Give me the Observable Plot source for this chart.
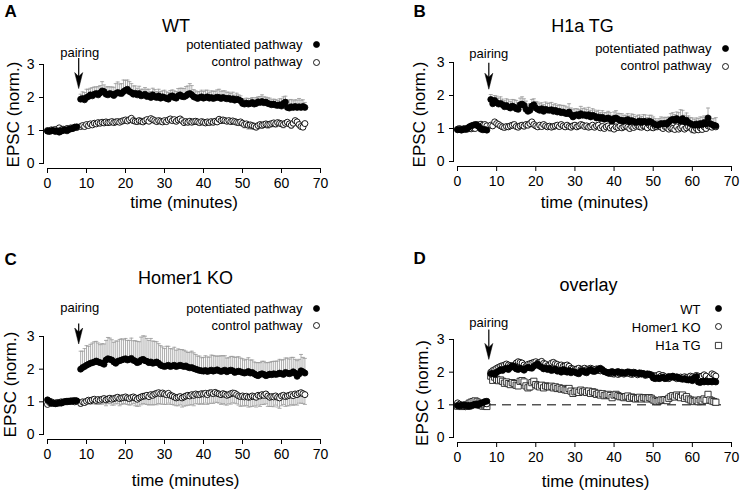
<!DOCTYPE html>
<html><head><meta charset="utf-8">
<script src="https://cdn.jsdelivr.net/npm/d3@7"></script>
<script src="https://cdn.jsdelivr.net/npm/@observablehq/plot@0.6"></script>
<style>
body{margin:0;background:#fff;}
#fig{position:relative;width:740px;height:492px;background:#fff;overflow:hidden;}
#fig > svg{position:absolute;}
</style></head><body><div id="fig"></div>
<script>
// ---------- DATA ----------
const xTicks = [0, 10, 20, 30, 40, 50, 60, 70];
const yTicks = [0, 1, 2, 3];
const pairingTime = [8];

const timePre = [0,0.5,1,1.5,2,2.5,3,3.5,4,4.5,5,5.5,6,6.5,7,7.5];
const timePost = [8.5,9,9.5,10,10.5,11,11.5,12,12.5,13,13.5,14,14.5,15,15.5,16,16.5,17,17.5,18,18.5,19,19.5,20,20.5,21,21.5,22,22.5,23,23.5,24,24.5,25,25.5,26,26.5,27,27.5,28,28.5,29,29.5,30,30.5,31,31.5,32,32.5,33,33.5,34,34.5,35,35.5,36,36.5,37,37.5,38,38.5,39,39.5,40,40.5,41,41.5,42,42.5,43,43.5,44,44.5,45,45.5,46,46.5,47,47.5,48,48.5,49,49.5,50,50.5,51,51.5,52,52.5,53,53.5,54,54.5,55,55.5,56,56.5,57,57.5,58,58.5,59,59.5,60,60.5,61,61.5,62,62.5,63,63.5,64,64.5,65,65.5,66];

// WT
const wtPotPre = [0.98,0.97,0.99,1.00,0.97,0.99,0.95,0.98,1.00,1.02,0.99,1.03,1.05,1.07,1.10,1.11];
const wtCtrlPre = [1.00,0.99,1.02,1.01,1.03,1.00,1.08,1.02,1.04,1.03,1.06,1.05,1.08,1.06,1.10,1.09];
const wtPotPost = [1.95,
1.97,1.93,2.00,2.03,2.08,2.05,2.10,2.12,2.08,2.14,2.20,2.18,2.10,2.08,
2.12,2.10,2.06,2.12,2.15,2.13,2.12,2.18,2.22,2.25,2.18,2.15,2.10,2.13,
2.08,2.12,2.05,2.07,2.10,2.03,2.05,2.00,2.08,2.02,2.00,2.05,1.98,2.02,
2.00,1.97,1.95,2.03,2.05,2.00,1.98,2.05,2.08,2.03,2.02,2.05,2.10,2.12,
2.08,2.02,2.00,1.97,2.00,2.02,1.98,2.00,2.02,1.98,2.00,1.97,1.99,2.01,
2.00,1.97,2.00,1.98,1.96,1.98,1.94,1.96,1.92,1.95,1.93,1.90,1.82,1.80,
1.83,1.80,1.82,1.85,1.80,1.82,1.87,1.85,1.88,1.84,1.86,1.82,1.80,1.78,
1.80,1.77,1.76,1.78,1.74,1.82,1.86,1.70,1.68,1.72,1.70,1.73,1.70,1.72,
1.70,1.73,1.70];
const wtPotErr = [0.15,
.20,.22,.25,.22,.20,.25,.22,.20,.25,.22,.28,.20,.22,.25,
.20,.22,.25,.30,.32,.28,.30,.35,.30,.28,.30,.27,.25,.22,
.20,.22,.20,.18,.20,.22,.20,.18,.20,.22,.18,.20,.20,.18,
.22,.20,.20,.18,.18,.20,.20,.22,.20,.25,.25,.28,.25,.30,
.28,.22,.20,.20,.18,.20,.20,.22,.20,.18,.20,.22,.20,.22,
.25,.22,.20,.22,.20,.18,.18,.20,.15,.18,.15,.15,.15,.15,
.15,.17,.15,.15,.15,.18,.15,.18,.20,.18,.15,.17,.18,.15,
.15,.17,.15,.18,.22,.20,.18,.20,.25,.22,.20,.20,.22,.25,
.22,.20,.15];
const wtCtrlPost = [1.12,
1.15,1.12,1.18,1.15,1.20,1.17,1.22,1.20,1.24,1.22,1.25,1.23,1.26,1.24,
1.25,1.27,1.24,1.26,1.27,1.25,1.28,1.30,1.32,1.29,1.33,1.37,1.30,1.28,
1.27,1.30,1.28,1.26,1.30,1.33,1.28,1.36,1.33,1.30,1.27,1.30,1.28,1.26,
1.30,1.27,1.32,1.35,1.30,1.33,1.28,1.32,1.35,1.30,1.24,1.27,1.25,1.28,
1.25,1.27,1.28,1.26,1.24,1.27,1.25,1.23,1.26,1.24,1.27,1.25,1.28,1.26,
1.34,1.30,1.32,1.30,1.28,1.30,1.27,1.29,1.27,1.25,1.24,1.26,1.22,1.18,
1.20,1.16,1.17,1.15,1.13,1.10,1.15,1.18,1.16,1.18,1.20,1.18,1.19,1.21,
1.23,1.20,1.24,1.22,1.20,1.18,1.22,1.25,1.20,1.16,1.22,1.30,1.26,1.18,
1.12,1.10,1.21];
const wtCtrlErr = [0.05,
.06,.05,.08,.06,.07,.08,.06,.07,.08,.06,.07,.08,.06,.07,
.08,.07,.06,.08,.07,.06,.08,.07,.06,.08,.07,.06,.08,.07,
.06,.07,.08,.06,.07,.08,.06,.07,.08,.06,.07,.08,.06,.07,
.08,.07,.06,.08,.07,.06,.08,.07,.06,.08,.07,.06,.08,.07,
.06,.07,.08,.06,.07,.08,.06,.07,.08,.06,.07,.08,.06,.07,
.08,.07,.06,.08,.07,.06,.08,.07,.06,.08,.07,.06,.08,.10,
.10,.12,.10,.12,.10,.08,.10,.12,.10,.08,.10,.12,.08,.10,
.08,.10,.08,.06,.08,.10,.08,.06,.08,.10,.08,.06,.08,.10,
.08,.06,.08];

// H1a TG
const tgPotPre = [0.96,0.97,0.95,0.98,0.97,1.00,1.05,1.08,1.10,1.12,1.09,1.05,0.98,0.96,0.97,0.95];
const tgCtrlPre = [0.98,1.00,0.97,0.99,1.00,0.98,1.00,0.99,1.01,1.00,1.12,1.10,1.13,1.10,1.12,1.08];
const tgPotPost = [1.88,
1.75,1.85,1.78,1.74,1.76,1.72,1.66,1.70,1.65,1.62,1.68,1.65,1.60,1.58,
1.72,1.74,1.70,1.58,1.52,1.55,1.68,1.72,1.62,1.58,1.55,1.60,1.52,1.58,
1.56,1.55,1.57,1.52,1.55,1.50,1.52,1.48,1.50,1.46,1.45,1.50,1.42,1.35,
1.40,1.42,1.38,1.45,1.40,1.42,1.38,1.42,1.35,1.40,1.38,1.32,1.35,1.30,
1.34,1.28,1.30,1.32,1.28,1.22,1.30,1.32,1.28,1.25,1.25,1.22,1.25,1.27,
1.20,1.24,1.22,1.18,1.20,1.23,1.18,1.22,1.21,1.18,1.22,1.20,1.15,1.12,
1.10,1.12,1.15,1.14,1.16,1.13,1.20,1.25,1.28,1.24,1.30,1.26,1.22,1.30,
1.20,1.25,1.18,1.15,1.12,1.10,1.14,1.10,1.15,1.12,1.18,1.14,1.32,1.15,
1.12,1.10,1.08];
const tgPotErr = [0.15,
.18,.15,.20,.18,.20,.17,.18,.20,.22,.20,.20,.22,.25,.20,
.20,.22,.20,.25,.22,.20,.20,.18,.20,.22,.20,.18,.20,.22,
.20,.22,.22,.20,.20,.20,.20,.22,.20,.22,.20,.25,.20,.22,
.20,.18,.20,.22,.20,.20,.20,.22,.20,.20,.18,.20,.20,.18,
.20,.20,.18,.20,.20,.18,.20,.22,.18,.20,.20,.18,.15,.18,
.18,.20,.20,.18,.20,.18,.18,.20,.20,.15,.18,.20,.20,.18,
.15,.18,.20,.18,.18,.20,.15,.20,.20,.18,.20,.22,.35,.25,
.20,.22,.20,.18,.20,.18,.18,.20,.20,.22,.20,.18,.30,.20,
.18,.20,.25];
const tgCtrlPost = [1.10,
1.08,1.20,1.15,1.12,1.08,1.05,1.03,1.06,1.05,1.08,1.10,1.12,1.06,1.04,
1.08,1.10,1.07,1.12,1.10,1.15,1.20,1.12,1.08,1.05,1.10,1.06,1.12,1.08,
1.05,1.07,1.04,1.06,1.08,1.10,1.06,1.12,1.08,1.05,1.10,1.06,1.04,1.08,
1.10,1.05,1.08,1.12,1.10,1.06,1.08,1.04,1.06,1.10,1.04,1.08,1.10,1.02,
1.06,1.00,1.05,1.08,1.02,1.06,0.98,1.05,1.03,1.07,1.02,1.05,1.08,1.04,
1.00,1.06,1.03,1.07,1.10,1.05,1.04,1.08,1.06,1.02,1.10,1.04,1.02,1.06,
1.05,1.08,1.04,1.00,1.06,1.03,0.98,1.02,1.00,0.97,1.05,0.98,1.02,1.05,
0.98,1.02,1.06,1.04,0.97,0.95,1.00,0.96,1.02,0.97,1.05,1.00,1.08,1.06,
1.04,1.08,1.05];
const tgCtrlErr = [0.05,
.06,.08,.07,.06,.08,.07,.06,.08,.07,.06,.08,.07,.06,.08,
.07,.06,.08,.07,.06,.08,.07,.06,.08,.07,.06,.08,.07,.06,
.08,.07,.06,.08,.07,.06,.08,.07,.06,.08,.07,.06,.08,.07,
.06,.08,.07,.06,.08,.07,.06,.08,.07,.10,.08,.07,.06,.08,
.07,.06,.08,.07,.10,.08,.07,.06,.08,.07,.06,.08,.07,.06,
.08,.07,.06,.08,.07,.06,.08,.07,.06,.08,.07,.06,.08,.07,
.06,.08,.07,.06,.08,.07,.06,.08,.07,.06,.08,.07,.06,.08,
.07,.06,.08,.07,.10,.08,.07,.06,.08,.07,.06,.08,.07,.06,
.08,.07,.06];

// Homer1 KO
const koPotPre = [1.06,1.02,0.95,0.96,0.94,0.95,0.97,0.96,0.99,1.00,1.02,1.01,1.03,1.02,1.04,1.03];
const koCtrlPre = [0.92,0.98,1.00,0.97,0.96,0.98,0.97,1.00,0.99,1.01,1.00,1.02,1.01,1.03,1.00,1.02];
const koPotPost = [2.00,
2.05,2.08,2.12,2.15,2.18,2.20,2.22,2.25,2.22,2.20,2.18,2.15,2.28,2.32,
2.30,2.28,2.22,2.18,2.24,2.26,2.28,2.30,2.32,2.28,2.30,2.33,2.27,2.25,
2.20,2.22,2.28,2.30,2.26,2.24,2.20,2.22,2.18,2.20,2.22,2.18,2.12,2.10,
2.08,2.10,2.12,2.08,2.10,2.12,2.08,2.10,2.12,2.10,2.08,2.10,2.06,2.04,
2.05,2.02,2.00,1.98,1.96,1.95,1.94,1.96,1.93,1.95,1.97,1.94,1.96,1.98,
1.95,1.93,1.95,1.97,1.92,1.95,1.97,1.95,1.90,1.92,1.94,1.92,1.90,1.88,
1.90,1.93,1.88,1.90,1.86,1.82,1.80,1.84,1.86,1.84,1.80,1.82,1.85,1.83,
1.86,1.84,1.85,1.88,1.86,1.84,1.90,1.88,1.86,1.88,1.92,1.88,1.78,1.85,
1.95,1.92,1.88];
const koPotErr = [0.55,
.50,.55,.60,.55,.58,.60,.62,.60,.58,.55,.60,.62,.60,.65,
.65,.62,.60,.68,.62,.65,.65,.60,.62,.60,.58,.62,.60,.62,
.65,.62,.70,.72,.75,.70,.68,.72,.68,.65,.62,.60,.60,.58,
.55,.60,.58,.55,.52,.55,.50,.52,.48,.50,.50,.45,.45,.48,
.50,.48,.45,.42,.44,.40,.42,.45,.44,.42,.46,.48,.44,.42,
.45,.48,.46,.44,.42,.40,.42,.44,.46,.45,.44,.42,.42,.40,
.40,.42,.40,.38,.36,.38,.40,.36,.38,.40,.40,.38,.36,.40,
.38,.40,.40,.42,.42,.45,.44,.46,.45,.48,.44,.42,.48,.45,
.50,.44,.45];
const koCtrlPost = [0.95,
1.00,0.98,1.02,1.05,1.03,1.06,1.08,1.04,1.07,1.05,1.08,1.10,1.06,1.09,
1.11,1.08,1.10,1.12,1.14,1.10,1.12,1.13,1.15,1.12,1.10,1.13,1.15,1.12,
1.08,1.12,1.15,1.17,1.18,1.20,1.16,1.22,1.20,1.24,1.26,1.28,1.25,1.27,
1.24,1.22,1.26,1.20,1.18,1.15,1.12,1.14,1.16,1.12,1.15,1.18,1.20,1.18,
1.22,1.20,1.24,1.22,1.22,1.25,1.24,1.26,1.22,1.27,1.28,1.25,1.29,1.26,
1.24,1.22,1.25,1.23,1.20,1.22,1.25,1.27,1.26,1.22,1.18,1.16,1.18,1.15,
1.17,1.14,1.15,1.18,1.16,1.14,1.20,1.18,1.22,1.20,1.24,1.18,1.14,1.16,
1.15,1.18,1.14,1.12,1.18,1.20,1.16,1.18,1.20,1.22,1.19,1.24,1.22,1.26,
1.28,1.25,1.22];
const koCtrlErr = [0.08,
.10,.08,.10,.12,.10,.12,.14,.12,.15,.12,.15,.16,.18,.15,
.16,.18,.20,.18,.20,.22,.20,.18,.22,.20,.20,.22,.20,.24,
.22,.25,.24,.22,.25,.28,.26,.30,.30,.32,.35,.33,.32,.34,
.32,.30,.30,.28,.26,.25,.24,.26,.25,.28,.28,.30,.30,.28,
.30,.32,.30,.28,.30,.30,.32,.30,.30,.32,.32,.30,.30,.28,
.28,.30,.30,.32,.30,.28,.32,.30,.30,.28,.28,.30,.30,.28,
.28,.30,.30,.32,.28,.30,.30,.32,.30,.28,.30,.32,.28,.30,
.30,.28,.30,.32,.30,.28,.30,.30,.32,.30,.30,.32,.32,.30,
.32,.30,.30];

// pairing arrow ends (EPSC units), per panel: [top, tip]
const arrowA = [3.18, 2.27];
const arrowB = [2.98, 2.19];
const arrowC = [3.38, 2.77];
const arrowD = [3.29, 2.39];

// ---------- helpers ----------
const FONT = '"Liberation Sans", Arial, Helvetica, sans-serif';
const GRAY = "#9a9a9a";
const headSymbol = {draw(ctx) { ctx.moveTo(0, 0); ctx.lineTo(-4, -16); ctx.lineTo(0, -12); ctx.lineTo(4, -16); ctx.closePath(); }};
const capSymbol = {draw(ctx) { ctx.moveTo(-2, 0); ctx.lineTo(2, 0); }};

function rows(pre, post, err) {
  return [
    ...timePre.map((t, i) => ({t, v: pre[i], e: 0})),
    ...timePost.map((t, i) => ({t, v: post[i], e: err ? err[i] : 0}))
  ];
}

function errorBars(data, dir) {
  const d = data.filter(r => r.e > 0);
  const end = r => r.v + dir * r.e;
  return [
    Plot.ruleX(d, {x: "t", y1: "v", y2: end, stroke: GRAY, strokeWidth: 0.8}),
    Plot.dot(d, {x: "t", y: end, symbol: capSymbol, stroke: GRAY, fill: "none", strokeWidth: 0.8})
  ];
}

const STY = {
  filled: {r: 3, fill: "black", stroke: "black", strokeWidth: 0.8},
  open: {r: 3, fill: "white", stroke: "black", strokeWidth: 0.9},
  square: {r: 3.5, symbol: "square", fill: "white", stroke: "#222", strokeWidth: 0.9}
};

function points(data, kind) {
  return Plot.dot(data, {x: "t", y: "v", ...STY[kind]});
}

function panel(L) {
  const marks = [
    Plot.frame({anchor: "left", insetBottom: 5, stroke: "black"}),
    Plot.frame({anchor: "bottom", insetLeft: 4, stroke: "black"}),
    Plot.axisY({ticks: yTicks, tickFormat: d3.format("d"), tickSize: 4, tickPadding: 5, label: null, fontSize: 14}),
    Plot.axisX({ticks: xTicks, tickFormat: d3.format("d"), tickSize: 5, tickPadding: 5, label: null, fontSize: 14}),
    ...L.layers,
    // pairing arrow
    Plot.ruleX(pairingTime, {x: d => d, y1: () => L.arrow[0], y2: () => L.arrow[1] + 0.1, stroke: "black", strokeWidth: 1.2}),
    Plot.dot(pairingTime, {x: d => d, y: () => L.arrow[1], symbol: headSymbol, fill: "black", stroke: "black", strokeWidth: 0.5}),
    Plot.text(pairingTime, {x: d => d, frameAnchor: "top", text: () => "pairing", dx: L.pairing[0], dy: L.pairing[1], textAnchor: "middle", lineAnchor: "bottom", fontSize: 13}),
    // panel letter and title
    Plot.text([L.letter], {frameAnchor: "top-left", text: d => d, dx: L.letterPos[0], dy: L.letterPos[1], textAnchor: "start", lineAnchor: "bottom", fontSize: 17, fontWeight: "bold"}),
    Plot.text([L.title], {frameAnchor: "top", text: d => d, dx: L.titlePos[0], dy: L.titlePos[1], textAnchor: "middle", lineAnchor: "bottom", fontSize: 18}),
    // axis labels
    Plot.text(["EPSC (norm.)"], {frameAnchor: "left", text: d => d, rotate: -90, dx: L.yLab[0], dy: L.yLab[1], textAnchor: "middle", lineAnchor: "middle", fontSize: 17}),
    Plot.text(["time (minutes)"], {frameAnchor: "bottom", text: d => d, dx: L.xLab[0], dy: L.xLab[1], textAnchor: "middle", lineAnchor: "bottom", fontSize: 17}),
  ];
  L.legend.forEach((item, i) => {
    marks.push(Plot.text([item.label], {frameAnchor: "top-right", text: d => d, dx: L.legText[0], dy: L.legText[1][i], textAnchor: "end", lineAnchor: "bottom", fontSize: 13}));
    marks.push(Plot.dot([item.label], {frameAnchor: "top-right", dx: L.legMark[0], dy: L.legMark[1][i], ...STY[item.kind]}));
  });
  const svg = Plot.plot({
    width: 370, height: 246,
    marginLeft: L.m[0], marginRight: L.m[1], marginTop: L.m[2], marginBottom: L.m[3],
    x: {domain: [0, 70], insetLeft: 4},
    y: {domain: [0, 3], insetBottom: 5},
    style: {fontFamily: FONT, fontSize: "14px", background: "white", color: "black", overflow: "visible"},
    marks
  });
  svg.style.left = L.pos[0] + "px";
  svg.style.top = L.pos[1] + "px";
  document.getElementById("fig").appendChild(svg);
}

const wtPot = rows(wtPotPre, wtPotPost, wtPotErr);
const wtCtrl = rows(wtCtrlPre, wtCtrlPost, wtCtrlErr);
const tgPot = rows(tgPotPre, tgPotPost, tgPotErr);
const tgCtrl = rows(tgCtrlPre, tgCtrlPost, tgCtrlErr);
const koPot = rows(koPotPre, koPotPost, koPotErr);
const koCtrl = rows(koCtrlPre, koCtrlPost, koCtrlErr);

const legPC = [{label: "potentiated pathway", kind: "filled"}, {label: "control pathway", kind: "open"}];

panel({
  pos: [0, 0], m: [43, 50, 64, 78], letter: "A", title: "WT",
  letterPos: [-39, -48], titlePos: [-6, -33], yLab: [-30, -2], xLab: [2, 39],
  pairing: [1, -8], arrow: arrowA,
  legend: legPC, legText: [-18, [-16, 1]], legMark: [-4, [-20, -2]],
  layers: [...errorBars(wtCtrl, -1), ...errorBars(wtPot, 1), points(wtCtrl, "open"), points(wtPot, "filled")]
});
panel({
  pos: [370, 0], m: [83, 9, 62, 80], letter: "B", title: "H1a TG",
  letterPos: [-40, -46], titlePos: [-10, -31], yLab: [-34, 0], xLab: [2, 41],
  pairing: [0, -5], arrow: arrowB,
  legend: legPC, legText: [-20, [-10, 7]], legMark: [-6, [-14, 4]],
  layers: [...errorBars(tgCtrl, -1), ...errorBars(tgPot, 1), points(tgCtrl, "open"), points(tgPot, "filled")]
});
panel({
  pos: [0, 246], m: [43, 50, 90, 53], letter: "C", title: "Homer1 KO",
  letterPos: [-39, -72], titlePos: [3.5, -53], yLab: [-33, -3.5], xLab: [3.5, 46.5],
  pairing: [1, -25], arrow: arrowC,
  legend: legPC, legText: [-18, [-24, -7]], legMark: [-4, [-28, -11]],
  layers: [...errorBars(koCtrl, -1), ...errorBars(koPot, 1), points(koCtrl, "open"), points(koPot, "filled")]
});
panel({
  pos: [370, 246], m: [83, 9, 93, 50], letter: "D", title: "overlay",
  letterPos: [-40, -76], titlePos: [-4, -49], yLab: [-31, 2], xLab: [3, 44],
  pairing: [0, -13], arrow: arrowD,
  legend: [{label: "WT", kind: "filled"}, {label: "Homer1 KO", kind: "open"}, {label: "H1a TG", kind: "square"}],
  legText: [-31, [-26, -8, 10]], legMark: [-13, [-31, -13, 6]],
  layers: [
    Plot.ruleY([1], {x1: timePre[0], x2: timePost[timePost.length - 1] + 2, stroke: "black", strokeWidth: 1, strokeDasharray: "9,6"}),
    points(tgPot, "square"), points(koPot, "open"), points(wtPot, "filled")
  ]
});
</script></body></html>
